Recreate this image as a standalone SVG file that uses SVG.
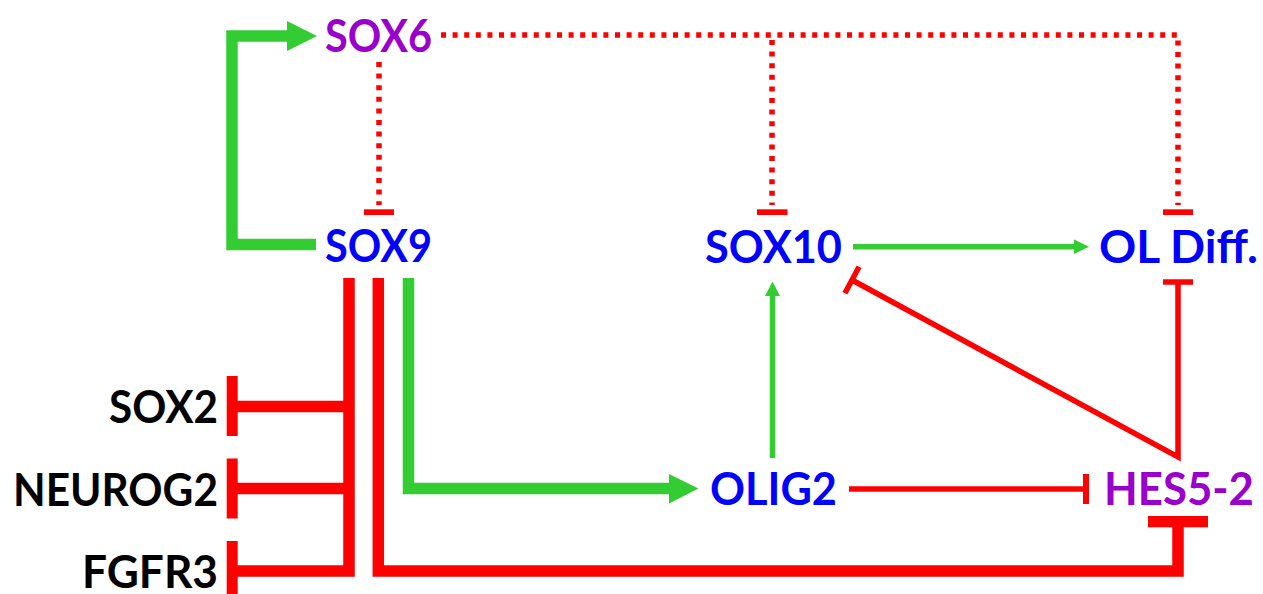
<svg xmlns="http://www.w3.org/2000/svg" width="1263" height="594" viewBox="0 0 1263 594">
<style>
text{font-family:Lato,"Open Sans","Liberation Sans",sans-serif;font-weight:bold;font-size:45px}
.blue{fill:#0000ff}.purple{fill:#9900cc}.black{fill:#000}
.gT{fill:none;stroke:#33cc33;stroke-width:11.5;stroke-linejoin:miter;stroke-linecap:butt}
.gt{fill:none;stroke:#33cc33;stroke-width:5.5}
.rT{fill:none;stroke:#ff0000;stroke-width:11.5;stroke-linejoin:miter;stroke-linecap:butt}
.rt{fill:none;stroke:#ff0000;stroke-width:5.5;stroke-linejoin:miter;stroke-miterlimit:10}
.rd{fill:none;stroke:#ff0000;stroke-width:5.5;stroke-dasharray:5 6.6}
.gf{fill:#33cc33}.rf{fill:#ff0000}
</style>
<rect width="1263" height="594" fill="#fff"/>
<g id="connectors">
<path class="gT" d="M316,244.5 H232 V36 H288"/>
<polygon class="gf" points="287,21 317,36 287,51"/>
<path class="rd" d="M441,35 H1178 V205"/>
<path class="rd" d="M772,40 V205"/>
<path class="rd" d="M379,62 V205"/>
<rect class="rf" x="364" y="209.3" width="30" height="5.7"/>
<rect class="rf" x="757" y="209.3" width="30.5" height="5.7"/>
<rect class="rf" x="1163" y="209.3" width="30" height="5.7"/>
<path class="gt" d="M853,246.7 H1075"/>
<polygon class="gf" points="1074,239.5 1089,246.7 1074,254"/>
<path class="gt" d="M772.5,458 V295"/>
<polygon class="gf" points="765,296 772.5,281.5 780,296"/>
<path class="rt" d="M852,280 L1178,457 V282"/>
<line class="rt" x1="859.1" y1="266.8" x2="844.9" y2="293.2"/>
<line class="rt" x1="1163" y1="282" x2="1193" y2="282"/>
<path class="rt" d="M849,489 H1086"/>
<rect class="rf" x="1083" y="474" width="6" height="30"/>
<path class="gT" d="M408.5,278 V488.5 H670"/>
<polygon class="gf" points="669,474 698.5,488.5 669,503.5"/>
<path class="rT" d="M378.3,278 V571 H1178 V522"/>
<rect class="rf" x="1148" y="516" width="60" height="11.3"/>
<path class="rT" d="M349,278 V571 H232"/>
<path class="rT" d="M349,406.5 H232"/>
<path class="rT" d="M349,488.5 H232"/>
<rect class="rf" x="226.7" y="376" width="11" height="60"/>
<rect class="rf" x="226.7" y="458.5" width="11" height="60"/>
<rect class="rf" x="226.7" y="541" width="11" height="60"/>
</g>
<g id="node-sox6"><text class="purple" x="325" y="52" textLength="107" lengthAdjust="spacingAndGlyphs">SOX6</text></g>
<g id="node-sox9"><text class="blue" x="325" y="262" textLength="107" lengthAdjust="spacingAndGlyphs">SOX9</text></g>
<g id="node-sox10"><text class="blue" x="705" y="263" textLength="137" lengthAdjust="spacingAndGlyphs">SOX10</text></g>
<g id="node-oldiff"><text class="blue" x="1099" y="263" textLength="159" lengthAdjust="spacingAndGlyphs">OL Diff.</text></g>
<g id="node-olig2"><text class="blue" x="710" y="505" textLength="127" lengthAdjust="spacingAndGlyphs">OLIG2</text></g>
<g id="node-hes52"><text class="purple" x="1104" y="505" textLength="150" lengthAdjust="spacingAndGlyphs">HES5-2</text></g>
<g id="node-sox2"><text class="black" x="109" y="423" textLength="109" lengthAdjust="spacingAndGlyphs">SOX2</text></g>
<g id="node-neurog2"><text class="black" x="13" y="506" textLength="205" lengthAdjust="spacingAndGlyphs">NEUROG2</text></g>
<g id="node-fgfr3"><text class="black" x="82" y="588" textLength="136" lengthAdjust="spacingAndGlyphs">FGFR3</text></g>
</svg>
